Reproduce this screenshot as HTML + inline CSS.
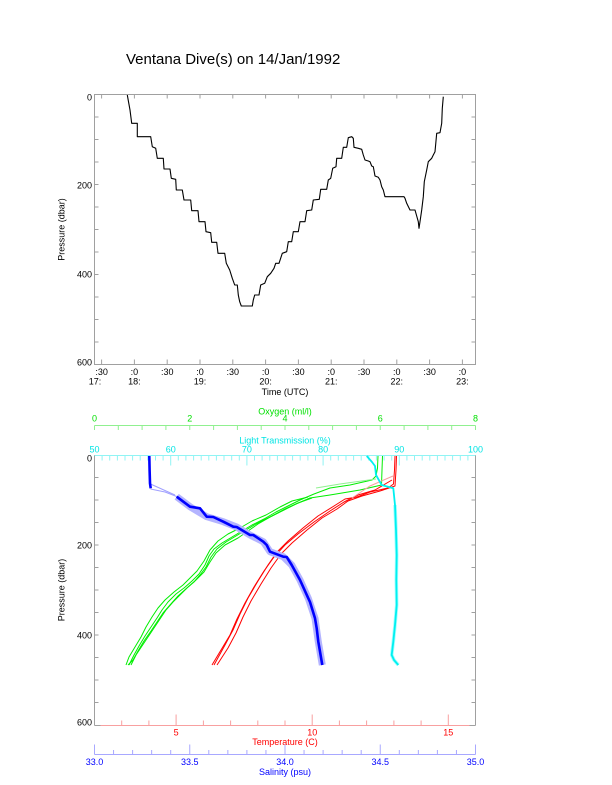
<!DOCTYPE html>
<html><head><meta charset="utf-8"><style>
html,body{margin:0;padding:0;background:#fff;}
svg{display:block;}
text{font-family:"Liberation Sans",Arial,sans-serif;}
</style></head><body>
<svg width="612" height="785" viewBox="0 0 612 785" xmlns="http://www.w3.org/2000/svg">
<rect width="612" height="785" fill="#fff"/>
<text x="126" y="64" font-size="15" fill="#000">Ventana Dive(s) on 14/Jan/1992</text>

<!-- ============ TOP CHART ============ -->
<g fill="none" stroke="#a0a0a0" stroke-width="1">
<rect x="94.5" y="94.5" width="381" height="270"/>
<path d="M101.6 94.5v4M134.4 94.5v4M167.2 94.5v4M200 94.5v4M232.8 94.5v4M265.6 94.5v4M298.4 94.5v4M331.2 94.5v4M364 94.5v4M396.8 94.5v4M429.6 94.5v4M462.4 94.5v4"/>
<path d="M101.6 364.5v-5M134.4 364.5v-5M167.2 364.5v-5M200 364.5v-5M232.8 364.5v-5M265.6 364.5v-5M298.4 364.5v-5M331.2 364.5v-5M364 364.5v-5M396.8 364.5v-5M429.6 364.5v-5M462.4 364.5v-5"/>
<path d="M94.5 117h4M94.5 139.5h4M94.5 162h4M94.5 184.5h4M94.5 207h4M94.5 229.5h4M94.5 252h4M94.5 274.5h4M94.5 297h4M94.5 319.5h4M94.5 342h4"/>
<path d="M475.5 117h-4M475.5 139.5h-4M475.5 162h-4M475.5 184.5h-4M475.5 207h-4M475.5 229.5h-4M475.5 252h-4M475.5 274.5h-4M475.5 297h-4M475.5 319.5h-4M475.5 342h-4"/>
</g>
<g font-size="9" fill="#000" text-anchor="end">
<text x="92" y="100.3">0</text>
<text x="92" y="188.3">200</text>
<text x="92" y="277.3">400</text>
<text x="92" y="365.3">600</text>
</g>
<text transform="translate(64.5,229.5) rotate(-90)" font-size="9" text-anchor="middle" fill="#000">Pressure (dbar)</text>
<g font-size="9" fill="#000" text-anchor="middle">
<text x="101.6" y="375">:30</text>
<text x="134.4" y="375">:0</text>
<text x="167.2" y="375">:30</text>
<text x="200" y="375">:0</text>
<text x="232.8" y="375">:30</text>
<text x="265.6" y="375">:0</text>
<text x="298.4" y="375">:30</text>
<text x="331.2" y="375">:0</text>
<text x="364" y="375">:30</text>
<text x="396.8" y="375">:0</text>
<text x="429.6" y="375">:30</text>
<text x="462.4" y="375">:0</text>
<text x="95" y="384.5">17:</text>
<text x="134.4" y="384.5">18:</text>
<text x="200" y="384.5">19:</text>
<text x="265.6" y="384.5">20:</text>
<text x="331.2" y="384.5">21:</text>
<text x="396.8" y="384.5">22:</text>
<text x="462.4" y="384.5">23:</text>
<text x="285" y="395">Time (UTC)</text>
</g>
<polyline fill="none" stroke="#000" stroke-width="1.1" stroke-linejoin="round" points="127.3,95 130,110 131.7,123.3 137.3,123.3 137.3,136.7 150.7,136.7 152.3,146.7 155.7,148.3 157.3,158.3 163.3,158.3 164,169 170,169 171.3,178.3 175.7,179.3 176.3,190 182.3,190 184,200 190.7,200 191.7,210.7 198,210.7 199,221.7 205,221.7 206,231.7 210.7,232.7 211.7,242.3 216.7,242.3 218,253.3 224.7,253.3 226.3,263.3 229.7,270 232.3,278.3 234.7,285 237.3,285 238.3,295 239.7,301.7 241.3,306 252.3,306 253.3,300 254.7,295 259,295 260.7,285 264.7,283.3 267.3,276.7 270.7,273.3 274,268.3 275.7,263.3 279,263.3 282.3,253.3 286.7,251.7 288.3,241.7 291.7,241.7 293.3,231.7 298.3,231.7 300,221.7 305,221.7 306.7,210.7 311.7,210 313.3,200 319.3,199.3 320.7,189.3 326.7,189.3 328.3,180 330.7,178.3 332.7,168.3 336,166.7 336.7,158.3 341.7,158.3 343.3,147.3 346.7,147.3 348.3,137.7 351.7,136.7 353.3,138.3 354,147.3 358.3,148.3 361.7,149.3 363.3,155 365,160 368.3,161 370,161.7 371.7,166 373.3,166.7 375,176 378.3,177.3 380,180 381.7,186.7 383.3,190 385,196.7 393.3,196.7 404,196.7 405,198.3 406.7,203.3 410,210 415,210 416.7,216 418.3,221.7 419,228.3 420,221.7 421.7,210 423.3,196.7 424.3,181.7 426.7,170 428.3,161.7 431.7,158.3 433.3,155 435,151.7 436.7,133.3 440,132.7 441.7,123.3 442.3,108.3 443.3,96.7"/>

<!-- ============ BOTTOM CHART ============ -->
<g fill="none" stroke="#a0a0a0" stroke-width="1">
<path d="M94.5 455v270.5M475.5 455v270.5"/>
<path d="M94.5 477.5h4M94.5 500h4M94.5 522.5h4M94.5 545h4M94.5 567.5h4M94.5 590h4M94.5 612.5h4M94.5 635h4M94.5 657.5h4M94.5 680h4M94.5 702.5h4"/>
<path d="M475.5 477.5h-4M475.5 500h-4M475.5 522.5h-4M475.5 545h-4M475.5 567.5h-4M475.5 590h-4M475.5 612.5h-4M475.5 635h-4M475.5 657.5h-4M475.5 680h-4M475.5 702.5h-4"/>
</g>
<g font-size="9" fill="#000" text-anchor="end">
<text x="92" y="461.3">0</text>
<text x="92" y="548.3">200</text>
<text x="92" y="638.3">400</text>
<text x="92" y="725.3">600</text>
</g>
<text transform="translate(64.5,590) rotate(-90)" font-size="9" text-anchor="middle" fill="#000">Pressure (dbar)</text>

<!-- Oxygen axis -->
<g fill="none" stroke="#90f090" stroke-width="1">
<path d="M94.5 425.5H475.5"/>
<path d="M94.5 425.5v4.5M118.3 425.5v4.5M142.1 425.5v4.5M165.9 425.5v4.5M189.75 425.5v4.5M213.6 425.5v4.5M237.4 425.5v4.5M261.2 425.5v4.5M285 425.5v4.5M308.8 425.5v4.5M332.6 425.5v4.5M356.4 425.5v4.5M380.25 425.5v4.5M404.1 425.5v4.5M427.9 425.5v4.5M451.7 425.5v4.5M475.5 425.5v4.5"/>
</g>
<g font-size="9" fill="#00e000" text-anchor="middle">
<text x="94.5" y="421.5">0</text>
<text x="189.75" y="421.5">2</text>
<text x="285" y="421.5">4</text>
<text x="380.25" y="421.5">6</text>
<text x="475.5" y="421.5">8</text>
<text x="285" y="414.3">Oxygen (ml/l)</text>
</g>

<!-- Light transmission axis -->
<g fill="none" stroke="#90f4f4" stroke-width="1">
<path d="M94.5 455.5H475.5"/>
<path d="M102.1 455.5v5M109.7 455.5v5M117.4 455.5v5M125 455.5v5M132.6 455.5v5M140.2 455.5v5M147.8 455.5v5M155.5 455.5v5M163.1 455.5v5M178.3 455.5v5M185.9 455.5v5M193.6 455.5v5M201.2 455.5v5M208.8 455.5v5M216.4 455.5v5M224 455.5v5M231.7 455.5v5M239.3 455.5v5M254.5 455.5v5M262.1 455.5v5M269.8 455.5v5M277.4 455.5v5M285 455.5v5M292.6 455.5v5M300.2 455.5v5M307.9 455.5v5M315.5 455.5v5M330.7 455.5v5M338.3 455.5v5M346 455.5v5M353.6 455.5v5M361.2 455.5v5M368.8 455.5v5M376.4 455.5v5M384.1 455.5v5M391.7 455.5v5M406.9 455.5v5M414.5 455.5v5M422.2 455.5v5M429.8 455.5v5M437.4 455.5v5M445 455.5v5M452.6 455.5v5M460.3 455.5v5M467.9 455.5v5"/>
<path d="M170.7 455.5v10M246.9 455.5v10M323.1 455.5v10M399.3 455.5v10"/>
</g>
<g font-size="9" fill="#00e4e4" text-anchor="middle">
<text x="94.5" y="452.5">50</text>
<text x="170.7" y="452.5">60</text>
<text x="246.9" y="452.5">70</text>
<text x="323.1" y="452.5">80</text>
<text x="399.3" y="452.5">90</text>
<text x="475.5" y="452.5">100</text>
<text x="285" y="443.5">Light Transmission (%)</text>
</g>

<!-- Temperature axis -->
<g fill="none" stroke="#f8a0a0" stroke-width="1">
<path d="M94.5 725.5H475.5"/>
<path d="M121.7 725.5v-5M148.9 725.5v-5M203.4 725.5v-5M230.6 725.5v-5M257.8 725.5v-5M285 725.5v-5M339.4 725.5v-5M366.6 725.5v-5M393.9 725.5v-5M421.1 725.5v-5"/>
<path d="M176.1 725.5v-11M312.2 725.5v-11M448.3 725.5v-11"/>
</g>
<path d="M94.5 725.5h6M475.5 725.5h-6" stroke="#a0a0a0" stroke-width="1"/>
<g font-size="9" fill="#ff0000" text-anchor="middle">
<text x="176.1" y="735.5">5</text>
<text x="312.2" y="735.5">10</text>
<text x="448.3" y="735.5">15</text>
<text x="285" y="745">Temperature (C)</text>
</g>

<!-- Salinity axis -->
<g fill="none" stroke="#a8a8ff" stroke-width="1">
<path d="M94.5 754.5H475.5"/>
<path d="M113.55 754.5v-4.5M132.6 754.5v-4.5M151.65 754.5v-4.5M170.7 754.5v-4.5M208.8 754.5v-4.5M227.85 754.5v-4.5M246.9 754.5v-4.5M265.95 754.5v-4.5M304.05 754.5v-4.5M323.1 754.5v-4.5M342.15 754.5v-4.5M361.2 754.5v-4.5M399.3 754.5v-4.5M418.35 754.5v-4.5M437.4 754.5v-4.5M456.45 754.5v-4.5"/>
<path d="M94.5 754.5v-10M189.75 754.5v-10M285 754.5v-10M380.25 754.5v-10M475.5 754.5v-10"/>
</g>
<g font-size="9" fill="#0000ff" text-anchor="middle">
<text x="94.5" y="765">33.0</text>
<text x="189.75" y="765">33.5</text>
<text x="285" y="765">34.0</text>
<text x="380.25" y="765">34.5</text>
<text x="475.5" y="765">35.0</text>
<text x="285" y="775">Salinity (psu)</text>
</g>

<!-- Data: green oxygen -->
<g fill="none" stroke="#00ee00" stroke-width="1" stroke-linejoin="round">
<polyline points="378,456 377.5,468 376,476 372,480 350,485 330,488 314,494 300,500 288,506 276,512 264,519 252,525 242,531 232,537 222,543 214,549 209,556 205,565 199,574 192,581 184,588 176,594 168,602 162,610 157,618 151,627 145,636 139,646 134,655 129,665"/>
<polyline points="382.5,456 382,470 381.5,485 360,490 330,495 310,498 296,504 284,510 270,517 256,524 246,530 236,536 226,542 217,549 211,557 206,567 200,575 194,582 187,588 180,595 173,602 166,610 160,619 154,628 148,637 142,646 136,655 131,665"/>
<polyline points="308,497 292,501 280,507 266,515 252,521 240,528 228,534 218,541 210,550 204,561 197,571 190,578 183,585 174,592 165,600 158,608 152,617 146,627 141,637 135,647 129,657 126,665"/>
<polyline points="312,498 298,503 285,509 272,516 258,524 248,531 238,538 225,545 216,553 210,562 204,572 196,580 188,587 178,596 170,605 163,613 157,622 151,631 144,641 138,651 133,660 128,665"/>
</g>
<polyline fill="none" stroke="#90f090" stroke-width="1" points="376,479 340,484 316,488"/>

<!-- Data: red temperature -->
<g fill="none" stroke="#ff0000" stroke-width="1" stroke-linejoin="round">
<polyline points="395,456 394.5,470 393.5,484 388,488 370,492 357,497 345,499 334,506 318,516 303,528 288,541 277,552 268,565 258,581 248,598 240,614 233,630 225,645 214,665"/>
<polyline points="396.5,456 396,470 395,486 380,491 362,496 348,501 337,509 322,518 307,530 292,543 281,554 271,568 261,584 251,601 243,617 236,633 228,648 217,665"/>
<polyline points="392,480 375,490 358,495 344,502 330,511 314,522 298,534 285,545 274,557 264,571 254,587 245,603 237,619 230,635 221,650 212,665"/>
</g>
<polyline fill="none" stroke="#f8a0a0" stroke-width="1" points="393,476 370,486 352,498"/>

<!-- Data: cyan light transmission -->
<polyline fill="none" stroke="#a0ffff" stroke-width="3.5" stroke-linejoin="round" points="395,505 396,530 396.7,555 396.3,580 396.7,605 395,625 393.3,641.7 391.7,655 394,660 398.3,665"/>
<polyline fill="none" stroke="#00f0f0" stroke-width="1.8" stroke-linejoin="round" points="366.7,456 372,462 375,466 376,475 381.7,485 393.3,488.3 395,505 396,530 396.7,555 396.3,580 396.7,605 395,625 393.3,641.7 391.7,655 394,660 398.3,665"/>

<!-- Data: blue salinity -->
<polyline fill="none" stroke="#b4b4ff" stroke-width="7" stroke-linejoin="round" points="176.7,496.7 190,506.7 206.7,516.7 223.3,521.7 236.7,527 250,535 263.3,541.7 270,551.7 283.3,556.7 291.7,565 300,580 308.3,598.3 315,618.3 318.3,641.7 322.3,665"/>
<polyline fill="none" stroke="#a0a0ff" stroke-width="1" points="150.5,484 175,495"/>
<polyline fill="none" stroke="#a0a0ff" stroke-width="1" points="150.5,489 165,492 178,497"/>
<polyline fill="none" stroke="#0000ff" stroke-width="2.6" stroke-linejoin="round" points="149.3,456 149.6,470 150,483.3 150.7,488.3"/>
<polyline fill="none" stroke="#0000ff" stroke-width="2.6" stroke-linejoin="round" points="176.7,496.7 190,506.7 200,508.3 206.7,516.7 213.3,517 223.3,521.7 233.3,526.7 236.7,527 250,535 253.3,535 263.3,541.7 266.7,545 270,551.7 283.3,556.7 286.7,557 291.7,565 300,580 308.3,598.3 310,602 315,618.3 316.7,628.3 318.3,641.7 322.3,665"/>
</svg>
</body></html>
